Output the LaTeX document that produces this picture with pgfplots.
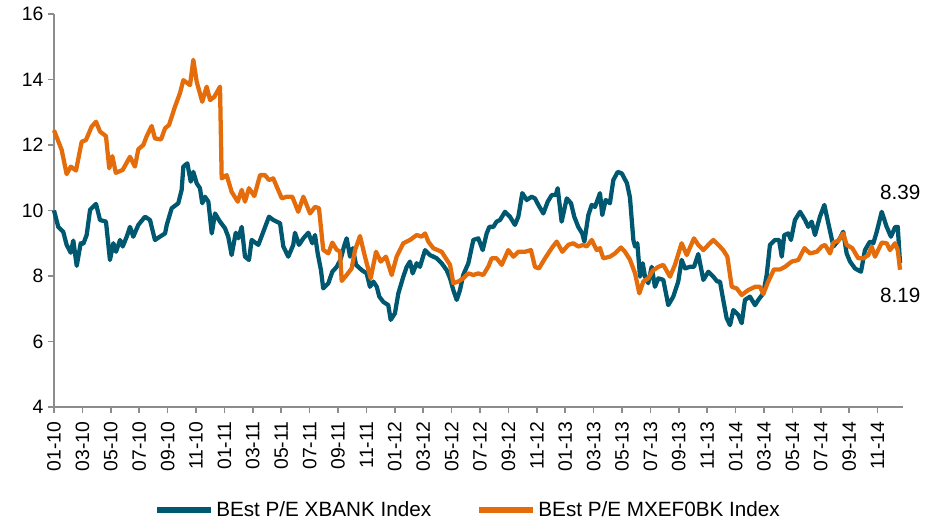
\documentclass[border=0pt]{standalone}
\usepackage{fontspec}
\setmainfont{Liberation Sans}
\usepackage{pgfplots}
\pgfplotsset{compat=1.18}
\usetikzlibrary{calc}
\definecolor{xbank}{RGB}{0,88,112}
\definecolor{mxef}{RGB}{228,108,10}
\definecolor{axgrey}{RGB}{140,140,140}

\begin{document}
\begin{tikzpicture}
\begin{axis}[
    scale only axis,
    width=636.75pt, height=294.75pt,
    xmin=0, xmax=59.79, ymin=4, ymax=16,
    axis x line*=bottom, axis y line*=left,
    axis line style={-, axgrey, line width=1.4pt},
    tick style={axgrey, line width=1.2pt},
    tick align=outside, major tick length=4.5pt,
    ytick={4,6,...,16},
    xtick={0,2,...,58},
    xticklabels={01-10,03-10,05-10,07-10,09-10,11-10,01-11,03-11,05-11,07-11,09-11,11-11,01-12,03-12,05-12,07-12,09-12,11-12,01-13,03-13,05-13,07-13,09-13,11-13,01-14,03-14,05-14,07-14,09-14,11-14},
    x tick label style={rotate=90, anchor=east, font=\fontsize{14.5}{16}\selectfont},
    xticklabel shift=3pt,
    y tick label style={font=\fontsize{14.5}{16}\selectfont},
    /pgf/number format/assume math mode=true,
    clip=false,
    legend style={at={(0.488,-0.262)}, anchor=center, draw=none, legend columns=2,
        font=\fontsize{15.5}{17}\selectfont,
        /tikz/every even column/.append style={column sep=32pt}},
    legend image code/.code={\draw[#1, line width=4.5pt] (0pt,0pt) -- (40pt,0pt);},
]
\addplot[xbank, line width=3.2pt, line join=round] coordinates {
(0.00,10.00) (0.30,9.50) (0.65,9.35) (0.89,8.95) (1.18,8.71) (1.36,9.08) (1.60,8.31) (1.88,9.00)
(2.06,8.98) (2.30,9.25) (2.54,10.02) (2.96,10.20) (3.24,9.71) (3.66,9.66) (3.94,8.49) (4.18,9.00)
(4.37,8.74) (4.65,9.10) (4.84,8.90) (5.12,9.20) (5.35,9.50) (5.58,9.20) (5.94,9.56) (6.41,9.81)
(6.76,9.71) (7.11,9.10) (7.46,9.20) (7.82,9.30) (7.94,9.56) (8.29,10.07) (8.75,10.22) (8.99,10.63)
(9.11,11.34) (9.39,11.44) (9.63,10.88) (9.81,11.18) (10.05,10.83) (10.28,10.68) (10.44,10.22) (10.63,10.42)
(10.87,10.27) (11.11,9.30) (11.34,9.91) (11.69,9.66) (12.04,9.46) (12.27,9.20) (12.51,8.64) (12.80,9.32)
(12.98,9.15) (13.22,9.50) (13.45,8.59) (13.73,8.49) (13.92,9.10) (14.39,8.95) (14.74,9.35) (15.14,9.81)
(15.44,9.71) (15.92,9.61) (16.15,8.90) (16.50,8.59) (16.85,8.95) (16.97,9.32) (17.25,8.95) (17.56,9.15)
(17.91,9.32) (18.19,9.00) (18.38,9.25) (18.57,8.69) (18.80,8.18) (18.96,7.62) (19.32,7.78) (19.60,8.13)
(19.91,8.28) (20.19,8.51) (20.42,8.90) (20.61,9.15) (20.85,8.59) (21.04,8.85) (21.27,8.34) (21.67,8.18)
(22.02,8.08) (22.25,7.67) (22.49,7.83) (22.73,7.67) (22.91,7.37) (23.19,7.21) (23.54,7.11) (23.71,6.66)
(24.01,6.86) (24.25,7.47) (24.60,7.98) (24.84,8.28) (25.07,8.44) (25.26,8.08) (25.54,8.39) (25.77,8.28)
(26.13,8.79) (26.48,8.64) (26.95,8.54) (27.30,8.39) (27.65,8.18) (27.89,7.93) (28.12,7.57) (28.36,7.27)
(28.59,7.57) (28.82,8.03) (29.18,8.39) (29.53,9.10) (29.88,9.15) (30.19,8.79) (30.47,9.30) (30.66,9.50)
(30.94,9.50) (31.17,9.66) (31.41,9.71) (31.76,9.96) (32.11,9.81) (32.46,9.56) (32.70,9.81) (32.98,10.53)
(33.29,10.32) (33.64,10.42) (33.87,10.37) (34.11,10.17) (34.46,9.91) (34.77,10.27) (35.05,10.47) (35.33,10.47)
(35.47,10.68) (35.75,9.66) (36.11,10.37) (36.41,10.22) (36.64,9.81) (36.92,9.50) (37.20,9.30) (37.35,9.05)
(37.63,9.86) (37.87,10.17) (38.10,10.11) (38.45,10.53) (38.61,9.86) (38.85,10.32) (39.15,10.22) (39.39,10.93)
(39.70,11.18) (39.99,11.13) (40.35,10.83) (40.56,10.40) (40.80,9.10) (40.92,8.90) (41.08,9.00) (41.27,7.98)
(41.46,8.39) (41.62,7.98) (41.85,7.78) (42.09,8.28) (42.32,7.67) (42.56,7.93) (42.91,7.88) (43.26,7.11)
(43.61,7.37) (43.96,7.83) (44.20,8.49) (44.44,8.23) (44.79,8.28) (45.07,8.28) (45.37,8.67) (45.73,7.88)
(46.08,8.13) (46.43,7.98) (46.71,7.83) (46.90,7.83) (47.13,7.27) (47.37,6.71) (47.61,6.50) (47.84,6.96)
(48.19,6.81) (48.43,6.56) (48.66,7.27) (49.01,7.37) (49.37,7.11) (49.60,7.27) (49.95,7.47) (50.19,8.03)
(50.42,8.95) (50.77,9.10) (51.06,9.10) (51.25,8.59) (51.43,9.25) (51.71,9.30) (51.90,9.10) (52.18,9.71)
(52.54,9.96) (52.89,9.71) (53.12,9.50) (53.36,9.66) (53.59,9.25) (53.94,9.81) (54.25,10.17) (54.53,9.61)
(54.89,8.90) (55.35,9.15) (55.58,9.35) (55.82,8.69) (56.06,8.44) (56.41,8.23) (56.83,8.13) (57.11,8.79)
(57.46,9.05) (57.70,9.00) (57.94,9.35) (58.29,9.96) (58.64,9.50) (58.94,9.20) (59.23,9.49) (59.42,9.50)
(59.58,8.39)
};
\addlegendentry{BEst P/E XBANK Index}
\addplot[mxef, line width=3.2pt, line join=round] coordinates {
(0.00,12.45) (0.54,11.85) (0.89,11.11) (1.18,11.34) (1.55,11.22) (1.95,12.10) (2.25,12.15) (2.65,12.56)
(2.96,12.71) (3.24,12.41) (3.66,12.27) (3.89,11.29) (4.11,11.66) (4.35,11.15) (4.84,11.24) (5.35,11.64)
(5.70,11.34) (5.94,11.87) (6.29,12.00) (6.53,12.27) (6.88,12.58) (7.11,12.20) (7.54,12.17) (7.82,12.51)
(8.10,12.61) (8.52,13.17) (8.87,13.58) (9.11,13.98) (9.58,13.83) (9.81,14.60) (10.05,13.93) (10.44,13.32)
(10.75,13.78) (10.99,13.37) (11.29,13.47) (11.69,13.78) (11.81,10.98) (12.16,11.08) (12.51,10.57) (12.94,10.27)
(13.22,10.63) (13.45,10.27) (13.73,10.68) (14.11,10.44) (14.51,11.08) (14.86,11.08) (15.14,10.93) (15.44,10.98)
(16.04,10.37) (16.39,10.42) (16.78,10.42) (17.20,9.96) (17.56,10.42) (18.03,9.91) (18.38,10.11) (18.66,10.07)
(18.96,8.80) (19.32,8.69) (19.60,9.02) (19.91,8.80) (20.14,8.75) (20.26,7.85) (20.61,8.03) (20.96,8.23)
(21.20,8.79) (21.55,9.22) (21.90,8.59) (22.30,7.93) (22.68,8.74) (23.01,8.44) (23.38,8.59) (23.78,8.03)
(24.13,8.59) (24.60,9.00) (25.07,9.10) (25.54,9.25) (25.89,9.20) (26.13,9.30) (26.36,9.05) (26.71,8.85)
(27.30,8.74) (27.89,8.34) (28.12,7.78) (28.47,7.83) (28.82,7.93) (29.18,8.08) (29.53,8.03) (29.88,8.08)
(30.23,8.03) (30.60,8.30) (30.82,8.54) (31.17,8.54) (31.53,8.34) (31.99,8.79) (32.35,8.59) (32.70,8.74)
(33.17,8.74) (33.59,8.79) (33.87,8.28) (34.15,8.23) (34.58,8.54) (35.05,8.85) (35.40,9.05) (35.80,8.74)
(36.22,8.95) (36.57,9.00) (36.92,8.90) (37.27,8.95) (37.51,8.90) (37.87,9.10) (38.22,8.79) (38.45,8.85)
(38.68,8.54) (39.15,8.59) (39.51,8.69) (39.93,8.87) (40.21,8.74) (40.56,8.50) (40.92,8.08) (41.22,7.47)
(41.50,7.83) (41.85,7.93) (42.16,8.16) (42.56,8.28) (42.91,8.34) (43.38,7.98) (43.73,8.34) (44.20,9.00)
(44.56,8.64) (45.07,9.15) (45.37,8.95) (45.73,8.79) (46.08,8.95) (46.43,9.10) (46.78,8.95) (47.13,8.79)
(47.42,8.59) (47.73,7.67) (48.08,7.62) (48.43,7.42) (48.89,7.57) (49.37,7.67) (49.72,7.67) (49.95,7.45)
(50.30,7.83) (50.70,8.20) (51.13,8.20) (51.48,8.28) (51.95,8.44) (52.42,8.49) (52.85,8.85) (53.24,8.69)
(53.72,8.74) (54.06,8.90) (54.30,8.95) (54.65,8.69) (54.89,9.02) (55.24,9.08) (55.58,9.30) (55.82,8.95)
(56.22,8.85) (56.64,8.54) (57.00,8.54) (57.35,8.64) (57.58,8.90) (57.82,8.59) (58.29,9.02) (58.64,9.00)
(58.87,8.79) (59.23,9.00) (59.42,8.79) (59.58,8.19)
};
\addlegendentry{BEst P/E MXEF0BK Index}
\node[font=\fontsize{15.5}{17}\selectfont] at (axis cs:59.6,10.55) {8.39};
\node[font=\fontsize{15.5}{17}\selectfont] at (axis cs:59.6,7.42) {8.19};
\end{axis}
\path (current axis.south west) ++(-40.5pt,-89.25pt) rectangle ($(current axis.north east)+(24.75pt,10.5pt)$);
\end{tikzpicture}
\end{document}
